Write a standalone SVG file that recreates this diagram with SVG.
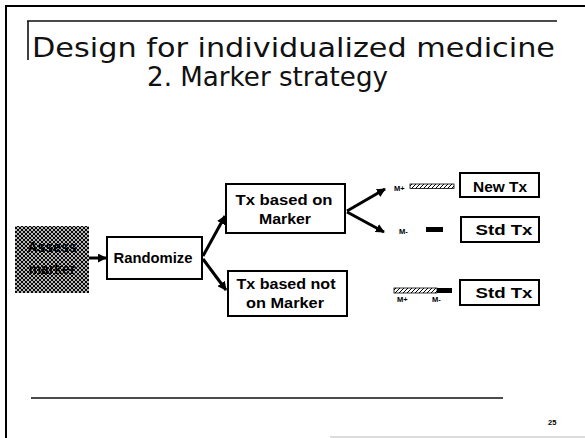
<svg xmlns="http://www.w3.org/2000/svg" width="585" height="438" viewBox="0 0 585 438">
  <style>
    .frame { stroke: #000; stroke-width: 2; fill: none; }
    .rule { stroke: #111; stroke-width: 1.6; fill: none; }
    .title { font-family: "DejaVu Sans", "Liberation Sans", sans-serif; font-size: 27px; fill: #111; }
    .box { fill: #fff; stroke: #000; stroke-width: 2; }
    .lbl { font-family: "Liberation Sans", Arial, sans-serif; font-weight: bold; font-size: 14px; fill: #000; text-anchor: middle; }
    .small { font-family: "Liberation Sans", Arial, sans-serif; font-weight: bold; font-size: 7.5px; fill: #000; }
    .conn { stroke: #000; stroke-width: 3; fill: none; }
  </style>
  <defs>
    <!-- dense cross-hatch used for the marker assessment box -->
    <pattern id="cross" width="4" height="4" patternUnits="userSpaceOnUse">
      <rect width="4" height="4" fill="#fff"/>
      <path d="M0,4 L4,0 M-1,1 L1,-1 M3,5 L5,3" stroke="#000" stroke-width="1.1"/>
      <path d="M0,0 L4,4 M-1,3 L1,5 M3,-1 L5,1" stroke="#000" stroke-width="1.1"/>
    </pattern>
    <!-- single diagonal hatch for the M+ bars -->
    <pattern id="diag" width="4" height="4" patternUnits="userSpaceOnUse">
      <rect width="4" height="4" fill="#fff"/>
      <path d="M0,4 L4,0 M-1,1 L1,-1 M3,5 L5,3" stroke="#000" stroke-width="1"/>
    </pattern>
    <marker id="arr" viewBox="0 0 10 10" refX="9" refY="5" markerWidth="3" markerHeight="3" orient="auto" markerUnits="strokeWidth">
      <path d="M0,0 L10,5 L0,10 z" fill="#000"/>
    </marker>
  </defs>

  <rect width="585" height="438" fill="#fff"/>

  <!-- slide frame -->
  <path class="frame" d="M6,438 L6,6 L585,6"/>
  <path class="rule" d="M27,21 L557,21 M28,21 L28,60"/>
  <path d="M330,437 L585,437" stroke="#bbb" stroke-width="1"/>

  <!-- title -->
  <text class="title" x="32" y="57" textLength="523" lengthAdjust="spacingAndGlyphs">Design for individualized medicine</text>
  <text class="title" x="147" y="86" textLength="241" lengthAdjust="spacingAndGlyphs">2. Marker strategy</text>

  <!-- connectors -->
  <g id="connectors">
    <line class="conn" x1="89" y1="258" x2="106" y2="258" stroke-width="2.5" marker-end="url(#arr)"/>
    <line class="conn" x1="203" y1="256" x2="225" y2="216" marker-end="url(#arr)"/>
    <line class="conn" x1="203" y1="259" x2="226" y2="290" marker-end="url(#arr)"/>
    <line class="conn" x1="347" y1="211" x2="385" y2="189" marker-end="url(#arr)"/>
    <line class="conn" x1="347" y1="212" x2="384" y2="232" marker-end="url(#arr)"/>
  </g>

  <g id="assess">
    <rect x="15" y="226" width="74" height="67" fill="url(#cross)"/>
    <text class="lbl" x="52" y="252" font-size="12" fill="#222">Assess</text>
    <text class="lbl" x="52" y="274" font-size="12" fill="#222">marker</text>
  </g>

  <g id="randomize">
    <rect class="box" x="107" y="237" width="95" height="42" stroke-width="1.6"/>
    <text class="lbl" x="153" y="263" font-size="13" textLength="79" lengthAdjust="spacingAndGlyphs">Randomize</text>
  </g>

  <g id="tx-marker">
    <rect class="box" x="226" y="184" width="119" height="49"/>
    <text class="lbl" x="284" y="205" textLength="97" lengthAdjust="spacingAndGlyphs">Tx based on</text>
    <text class="lbl" x="285" y="224" textLength="52" lengthAdjust="spacingAndGlyphs">Marker</text>
  </g>

  <g id="tx-not-marker">
    <rect class="box" x="228" y="271" width="119" height="45"/>
    <text class="lbl" x="286" y="289" textLength="99" lengthAdjust="spacingAndGlyphs">Tx based not</text>
    <text class="lbl" x="285" y="308" textLength="78" lengthAdjust="spacingAndGlyphs">on Marker</text>
  </g>

  <g id="new-tx">
    <text class="small" x="394" y="191">M+</text>
    <rect x="410" y="184" width="44" height="4.5" fill="url(#diag)" stroke="#000" stroke-width="0.8"/>
    <rect class="box" x="460" y="173" width="79" height="24"/>
    <text class="lbl" x="500" y="192" textLength="54" lengthAdjust="spacingAndGlyphs">New Tx</text>
  </g>

  <g id="std-tx-1">
    <text class="small" x="399" y="234">M-</text>
    <rect x="426" y="227" width="17" height="5" fill="#000"/>
    <rect class="box" x="461" y="217" width="78" height="25"/>
    <text class="lbl" x="504" y="235" textLength="57" lengthAdjust="spacingAndGlyphs">Std Tx</text>
  </g>

  <g id="std-tx-2">
    <rect x="394" y="288" width="43" height="5" fill="url(#diag)" stroke="#000" stroke-width="0.8"/>
    <rect x="437" y="288" width="15" height="5" fill="#000"/>
    <text class="small" x="397" y="302">M+</text>
    <text class="small" x="432" y="302">M-</text>
    <rect class="box" x="460" y="280" width="79" height="25"/>
    <text class="lbl" x="504" y="298" textLength="57" lengthAdjust="spacingAndGlyphs">Std Tx</text>
  </g>

  <!-- footer -->
  <path class="rule" d="M31,398 L503,398"/>
  <text class="small" x="548" y="425" font-weight="normal" font-size="7">25</text>
</svg>
